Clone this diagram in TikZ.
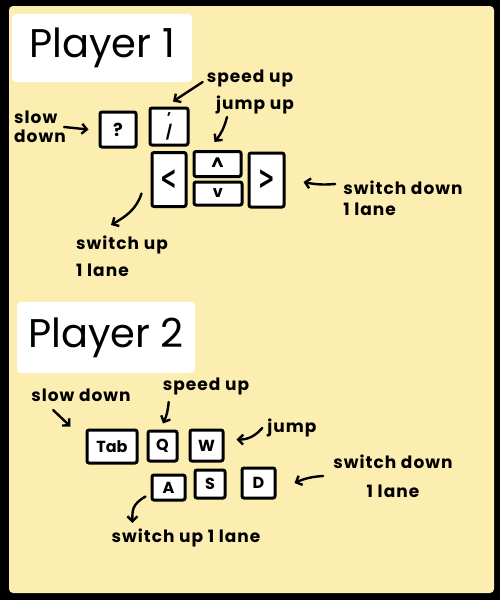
\documentclass[tikz,border=0pt]{standalone}
\usepackage{fontspec}
\setmainfont{Poppins}
\newfontfamily\keyglyph{DejaVu Sans}
\usepackage{tikz}
\usetikzlibrary{arrows.meta}
\definecolor{paper}{HTML}{FCEDB0}
\colorlet{ink}{black}

\begin{document}
\begin{tikzpicture}[
            x=1pt, y=-1pt,
            keybox/.style={draw=ink, line width=3pt, fill=white, rounded corners=2pt, inner sep=0pt,
                font=\bfseries\fontsize{16}{16}\selectfont},
            note/.style={font=\bfseries\fontsize{17}{19}\selectfont\addfontfeature{LetterSpace=6},
                inner sep=0pt, align=left},
            title/.style={fill=white, rounded corners=4pt, inner sep=0pt, font=\fontsize{40}{40}\selectfont},
            pointer/.style={-{Straight Barb[length=5pt,width=10pt]}, line width=2.4pt, line cap=round, draw=ink}
        ]
            \fill [black] (0,0) rectangle (500,600);
            \fill [paper, rounded corners=4pt] (9,6) rectangle (494,593);

            \node [title, minimum width=180pt, minimum height=68pt] (titleA) at (102,48) {Player 1};

            \node [keybox, minimum width=36pt, minimum height=35pt, font=\bfseries\fontsize{18}{18}\selectfont] (keyslow) at (118,129.5) {?};
            \node [keybox, minimum width=38pt, minimum height=37pt, align=center,
                font=\bfseries\fontsize{14}{11}\selectfont] (keyfast) at (169,126.5) {'\\/};
            \node [keybox, minimum width=34pt, minimum height=54pt, font=\keyglyph\bfseries\fontsize{22}{22}\selectfont] (keyleft) at (169,179.5) {\scalebox{0.9}[1.5]{<}};
            \node [keybox, minimum width=47pt, minimum height=25pt, font=\bfseries\fontsize{18}{18}\selectfont] (keyup) at (217.5,164) {\textasciicircum};
            \node [keybox, minimum width=48pt, minimum height=23pt] (keydown) at (218,193.5) {v};
            \node [keybox, minimum width=35pt, minimum height=54pt, font=\keyglyph\bfseries\fontsize{22}{22}\selectfont] (keyright) at (266.5,180) {\scalebox{0.9}[1.5]{>}};

            \node [note] (slowA) at (40,127) {slow\\down};
            \node [note] (fastA) at (250,78) {speed up};
            \node [note] (jumpA) at (255,105) {jump up};
            \node [note] (downA) at (403,198) {switch down\\[2pt]1 lane};
            \node [note] (upA) at (122,256) {switch up\\[8pt]1 lane};

            \draw [pointer] ([xshift=-2pt]slowA.east) -- ([xshift=-10pt]keyslow.west);
            \draw [pointer] ([shift={(-4,4)}]fastA.west) -- ([shift={(4,-5)}]keyfast.north);
            \draw [pointer] ([shift={(-28,12)}]jumpA.center) to[bend left=12] ([shift={(-3,-8)}]keyup.north);
            \draw [pointer] ([shift={(-8,-14)}]downA.west) to[bend left=8] ([shift={(18,2)}]keyright.east);
            \draw [pointer] ([shift={(-9,14)}]keyleft.west) .. controls +(-5,16) and +(14,-8) .. ([shift={(35,-31)}]upA.west);

            \node [title, minimum width=178pt, minimum height=71pt] (titleB) at (106,337.5) {Player 2};

            \node [keybox, minimum width=50pt, minimum height=33pt] (keytab) at (112,446.5) {Tab};
            \node [keybox, minimum width=29pt, minimum height=30pt] (keyq) at (162.5,446) {Q};
            \node [keybox, minimum width=33pt, minimum height=31pt] (keyw) at (206.5,445.5) {W};
            \node [keybox, minimum width=33pt, minimum height=25pt] (keya) at (168.5,487.5) {A};
            \node [keybox, minimum width=30pt, minimum height=28pt] (keys) at (210,484) {S};
            \node [keybox, minimum width=33pt, minimum height=30pt] (keyd) at (258.5,483) {D};

            \node [note] (slowB) at (81,395) {slow down};
            \node [note] (fastB) at (206,386) {speed up};
            \node [note] (jumpB) at (292,428) {jump};
            \node [note, align=center] (downB) at (393,476) {switch down\\[10pt]1 lane};
            \node [note] (upB) at (186,538) {switch up 1 lane};

            \draw [pointer] ([shift={(22,15)}]slowB.west) -- ([shift={(-15,-2)}]keytab.north west);
            \draw [pointer] ([shift={(6,16)}]fastB.west) to[bend left=10] ([shift={(0.5,-6)}]keyq.north);
            \draw [pointer] ([xshift=-5pt]jumpB.west) to[bend left=25] ([shift={(12,-6)}]keyw.east);
            \draw [pointer] ([xshift=-10pt]downB.west) to[bend right=10] ([xshift=18pt]keyd.east);
            \draw [pointer] ([shift={(-5,-5)}]keya.south west) .. controls +(-14,8) and +(0,-12) .. ([shift={(21,-15)}]upB.west);
        \end{tikzpicture}
\end{document}
